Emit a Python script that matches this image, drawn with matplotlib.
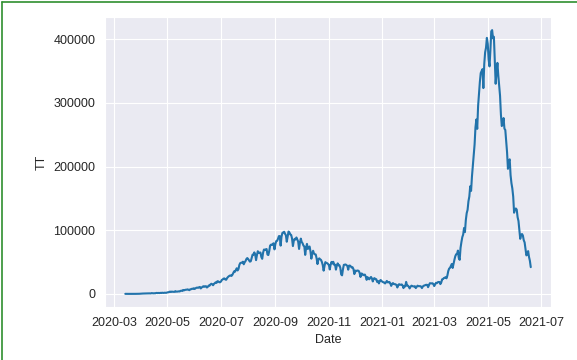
import numpy as np
import pandas as pd
import matplotlib
matplotlib.use('Agg')
import matplotlib.pyplot as plt
import seaborn as sns
from matplotlib.lines import Line2D

# daily confirmed cases (TT), one list per month
mar20 = [81, 27, 15, 11, 37, 27, 58, 78, 69, 94, 74, 86, 73, 153, 136, 120, 187, 309]
apr20 = [424, 486, 560, 579, 609, 484, 573, 565, 813, 871, 854, 758, 1243, 1031, 886,
         1061, 922, 1371, 1580, 1239, 1537, 1292, 1667, 1408, 1835, 1607, 1568, 1902, 1705, 1801]
may20 = [2396, 2564, 2952, 3656, 2971, 3602, 3344, 3339, 3175, 4311, 3592, 3562, 3726, 3991,
         3808, 4794, 5050, 4630, 6147, 5553, 6198, 6568, 6629, 7111, 6414, 5843, 7293, 7300,
         8105, 7964, 8789]
jun20 = [7723, 8812, 9689, 9847, 9472, 10408, 10882, 8536, 9981, 11156, 12023, 11157, 11929,
         12035, 10032, 11086, 13108, 12869, 14721, 15915, 15183, 13540, 15656, 16868, 18205,
         17296, 19906, 19610, 18339, 18256]
jul20 = [19429, 21947, 22721, 24018, 24248, 22510, 22251, 24879, 26506, 27756, 28637, 29106,
         28179, 29917, 32607, 35468, 34820, 37411, 40243, 36806, 39170, 45599, 48446, 48892,
         49000, 50526, 46484, 49632, 51492, 54750, 56282]
aug20 = [54735, 52672, 50629, 51282, 56626, 61537, 61455, 65156, 62117, 53016, 60963, 66999,
         64142, 64732, 65002, 57981, 55079, 64572, 69672, 68898, 69878, 70488, 61749, 60975,
         67151, 75760, 77266, 76665, 78511, 79457, 69921]
sep20 = [78169, 82860, 83341, 86432, 90632, 90802, 75809, 89706, 95735, 96551, 97570, 94372,
         92071, 81911, 90123, 97894, 96424, 93337, 92605, 86961, 75083, 83347, 86508, 85362,
         88600, 85468, 82170, 70589, 80472, 86821]
oct20 = [81484, 79476, 75829, 74442, 61267, 72049, 78524, 70496, 73272, 74383, 66732, 55342,
         63509, 67708, 63371, 62212, 61871, 55722, 46790, 54044, 55839, 54366, 53370, 50129,
         45149, 36470, 43893, 49881, 48648, 48268, 46963]
nov20 = [45231, 38310, 46253, 50210, 47638, 50357, 45674, 45903, 38073, 44281, 47905, 44879,
         44878, 41100, 30548, 29163, 38617, 45576, 45882, 46232, 45209, 44059, 37975, 44376,
         44489, 43082, 41322, 41810, 38772, 31118]
dec20 = [36604, 35551, 36595, 36652, 36011, 32981, 26567, 32080, 31521, 29398, 30006, 30254,
         27071, 22065, 26382, 24010, 22890, 25152, 26624, 24337, 19556, 23950, 24712, 23067,
         23068, 18732, 20021, 16432, 20549, 21822, 20035]
jan21 = [19078, 18177, 18088, 16375, 18088, 20346, 18139, 18222, 18645, 16311, 12584, 15968,
         16946, 15590, 15158, 15144, 13788, 10064, 13823, 15223, 14545, 14256, 14849, 13203,
         9102, 12689, 11666, 18855, 13083, 13052, 11427]
feb21 = [8635, 11039, 12899, 12408, 11713, 11762, 12059, 9110, 11067, 12923, 12143, 12194,
         12143, 11649, 9121, 11610, 12881, 13193, 13993, 14264, 14199, 10584, 13742, 16738,
         16577, 16488, 16752, 15510]
mar21 = [12286, 14989, 17407, 16838, 18327, 18711, 18599, 15388, 17921, 22854, 23285, 24882,
         25320, 26291, 24492, 28903, 35871, 39726, 40953, 43846, 46951, 40715, 47262, 53476,
         59118, 62258, 62714, 68020, 56211, 53480, 72330]
apr21 = [81466, 89129, 93249, 103558, 96982, 115736, 126789, 131968, 145384, 152879, 168912,
         161736, 184372, 200739, 217353, 234692, 261500, 273810, 259170, 295041, 314835,
         332730, 346786, 349691, 352991, 323144, 360960, 379257, 386452, 401993]
may21 = [392488, 368147, 357229, 382315, 412262, 414188, 401078, 403738, 366161, 329942,
         348421, 362727, 343144, 326098, 311170, 281386, 263533, 267334, 276070, 259551,
         257299, 240842, 222315, 196427, 208921, 211298, 186364, 173790, 165553, 152734, 127510]
jun21 = [132788, 134154, 132364, 120529, 114460, 100636, 86498, 92596, 94052, 91702, 84332,
         80834, 70421, 60471, 62224, 67208, 58000, 52000, 42000]

tt = mar20 + apr20 + may20 + jun20 + jul20 + aug20 + sep20 + oct20 + nov20 + dec20 \
    + jan21 + feb21 + mar21 + apr21 + may21 + jun21
dates = pd.date_range('2020-03-14', periods=len(tt), freq='D')
df = pd.DataFrame({'Date': dates, 'TT': tt})

sns.set_style('darkgrid')
plt.rcParams['font.family'] = ['Liberation Sans', 'DejaVu Sans']
plt.rcParams['font.size'] = 9

fig = plt.figure(figsize=(5.77, 3.6), dpi=100)
ax = fig.add_axes([0.182, 0.147, 0.773, 0.806])
sns.lineplot(data=df, x='Date', y='TT', ax=ax, color='#2273ab', linewidth=1.5)
ax.tick_params(labelsize=9, colors='#262626')
ax.set_xlabel('Date', fontsize=9)
ax.set_ylabel('TT', fontsize=9)

# green frame of the screenshot
fig.add_artist(Line2D([0.004, 0.004], [0.0, 0.995], color='#2f8f2f', lw=1.2,
                      transform=fig.transFigure))
fig.add_artist(Line2D([0.004, 1.0], [0.995, 0.995], color='#2f8f2f', lw=1.2,
                      transform=fig.transFigure))

fig.savefig('out.png', dpi=100)
